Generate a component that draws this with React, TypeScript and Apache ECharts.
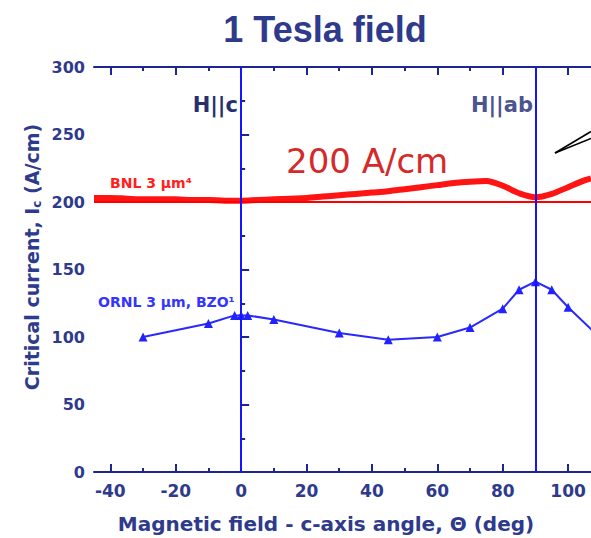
import React, { useEffect, useRef } from "react";
import * as echarts from "echarts";

const bnlAngles = [-45, -40, -35, -30, -25, -20, -15, -10, -5, 0, 5, 10, 15, 20, 25, 30, 35, 40, 45, 50, 55, 60, 65, 70, 75, 80, 85, 90, 95, 100, 105, 107];
const bnlValues = [203, 203, 202.5, 202, 202, 202, 201.5, 201.5, 201, 201, 201.5, 202, 202.5, 203, 204, 205, 206, 207, 208, 209.5, 211, 212.5, 214, 215, 215.5, 212, 206.5, 203.5, 206, 211, 216, 217.5];

const ornlAngles = [-30, -10, -2, 0, 2, 10, 30, 45, 60, 70, 80, 85, 90, 95, 100, 110];
const ornlValues = [100, 110, 116, 116, 116, 113, 103, 98, 100, 107, 121, 135, 141, 135, 122, 99];

const xMajorTicks = [-40, -20, 0, 20, 40, 60, 80, 100];
const xMinorTicks = [-30, -10, 10, 30, 50, 70, 90];
const referenceLevel = 200;
const fieldDirections = [0, 90];

const NAVY = "#2e3a8c";
const AXIS = "#1c2590";
const FONT = "DejaVu Sans";

export default function App() {
  const ref = useRef<HTMLDivElement>(null);

  useEffect(() => {
    document.body.style.margin = "0";
    if (!ref.current) return;
    const chart = echarts.init(ref.current, null, { renderer: "svg" });

    const xBase = (position: "top" | "bottom", major: boolean, showLine: boolean, showLabel: boolean) => ({
      type: "value",
      min: -45,
      max: 107,
      position,
      axisLine: { show: showLine, onZero: false, lineStyle: { color: AXIS, width: 2 } },
      axisTick: {
        show: true,
        inside: true,
        length: major ? 8 : 4,
        lineStyle: { color: AXIS, width: 2 },
        customValues: major ? xMajorTicks : xMinorTicks,
      },
      axisLabel: showLabel
        ? {
            show: true,
            customValues: xMajorTicks,
            color: NAVY,
            fontFamily: FONT,
            fontWeight: "bold",
            fontSize: 17,
            margin: 10,
          }
        : { show: false },
      splitLine: { show: false },
    });

    chart.setOption({
      animation: false,
      backgroundColor: "#ffffff",
      grid: { left: 94, top: 67, right: 0, bottom: 66, containLabel: false },
      xAxis: [
        xBase("bottom", true, true, true),
        xBase("bottom", false, false, false),
        xBase("top", true, true, false),
        xBase("top", false, false, false),
      ],
      yAxis: {
        type: "value",
        min: 0,
        max: 300,
        interval: 50,
        axisLine: { show: true, lineStyle: { color: AXIS, width: 2 } },
        axisTick: { show: true, inside: true, length: 8, lineStyle: { color: AXIS, width: 2 } },
        minorTick: { show: true, splitNumber: 2, length: 4, lineStyle: { color: AXIS, width: 2 } },
        axisLabel: { color: NAVY, fontFamily: FONT, fontWeight: "bold", fontSize: 16, margin: 9 },
        splitLine: { show: false },
        minorSplitLine: { show: false },
      },
      series: [
        {
          name: "BNL 3 µm",
          type: "line",
          xAxisIndex: 0,
          data: bnlAngles.map((a, i) => [a, bnlValues[i]]),
          symbol: "none",
          smooth: 0.3,
          lineStyle: { color: "#ff1414", width: 6 },
          z: 3,
          markLine: {
            silent: true,
            symbol: "none",
            label: { show: false },
            lineStyle: { color: "#ff0000", width: 2, type: "solid" },
            data: [{ yAxis: referenceLevel }],
          },
        },
        {
          name: "ORNL 3 µm, BZO",
          type: "line",
          xAxisIndex: 0,
          data: ornlAngles.map((a, i) => [a, ornlValues[i]]),
          symbol: "triangle",
          symbolSize: 9,
          itemStyle: { color: "#2222ff" },
          lineStyle: { color: "#2828ff", width: 2 },
          z: 4,
          markLine: {
            silent: true,
            symbol: "none",
            label: { show: false },
            lineStyle: { color: "#1414ff", width: 2, type: "solid" },
            data: fieldDirections.map((d) => ({ xAxis: d })),
          },
        },
      ],
      graphic: [
        {
          type: "text",
          x: 325,
          y: 29,
          style: {
            text: "1 Tesla field",
            fill: NAVY,
            font: "bold 36px 'Liberation Sans'",
            align: "center",
            verticalAlign: "middle",
          },
        },
        {
          type: "text",
          x: 238,
          y: 105,
          style: {
            text: "H||c",
            fill: "#27306e",
            font: `bold 21px '${FONT}'`,
            align: "right",
            verticalAlign: "middle",
          },
        },
        {
          type: "text",
          x: 533,
          y: 105,
          style: {
            text: "H||ab",
            fill: "#4b548f",
            font: `bold 21px '${FONT}'`,
            align: "right",
            verticalAlign: "middle",
          },
        },
        {
          type: "text",
          x: 286,
          y: 161,
          style: {
            text: "200 A/cm",
            fill: "#d42a2a",
            font: `34px '${FONT}'`,
            align: "left",
            verticalAlign: "middle",
          },
        },
        {
          type: "text",
          x: 110,
          y: 183,
          style: {
            text: "BNL 3 µm⁴",
            fill: "#ff2020",
            font: `bold 14px '${FONT}'`,
            align: "left",
            verticalAlign: "middle",
          },
        },
        {
          type: "text",
          x: 98,
          y: 302,
          style: {
            text: "ORNL 3 µm, BZO¹",
            fill: "#3434ff",
            font: `bold 14px '${FONT}'`,
            align: "left",
            verticalAlign: "middle",
          },
        },
        {
          type: "text",
          x: 326,
          y: 524,
          style: {
            text: "Magnetic field - c-axis angle, Θ (deg)",
            fill: NAVY,
            font: `bold 20px '${FONT}'`,
            align: "center",
            verticalAlign: "middle",
          },
        },
        {
          type: "text",
          x: 32,
          y: 257,
          rotation: Math.PI / 2,
          style: {
            text: "{n|Critical current, I}{s|c}{n| (A/cm)}",
            align: "center",
            verticalAlign: "middle",
            rich: {
              n: { fill: NAVY, fontFamily: FONT, fontWeight: "bold", fontSize: 19 },
              s: { fill: NAVY, fontFamily: FONT, fontWeight: "bold", fontSize: 12, padding: [10, 0, 0, 0] },
            },
          },
        },
        {
          type: "line",
          shape: { x1: 555, y1: 153, x2: 591, y2: 131.5 },
          style: { stroke: "#000000", lineWidth: 1.6 },
        },
        {
          type: "line",
          shape: { x1: 555, y1: 153, x2: 591, y2: 138.5 },
          style: { stroke: "#000000", lineWidth: 1.6 },
        },
      ],
    });

    return () => chart.dispose();
  }, []);

  return <div ref={ref} style={{ width: 591, height: 538 }} />;
}
